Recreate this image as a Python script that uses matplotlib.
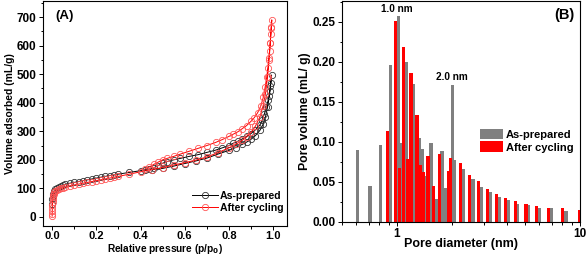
"""Isotermas de adsorción y distribución de tamaño de poro."""

import matplotlib.pyplot as plt
import numpy as np
from matplotlib.ticker import LogLocator, MultipleLocator, NullFormatter

plt.rcParams["font.family"] = ["Liberation Sans", "DejaVu Sans"]
plt.rcParams["font.weight"] = "bold"
plt.rcParams["axes.labelweight"] = "bold"

# (A) isotermas: rama de adsorción y de desorción
prep_ads_p = [
    0.0005, 0.001, 0.002, 0.004, 0.007, 0.01, 0.015, 0.02, 0.03, 0.04,
    0.05, 0.06, 0.08, 0.1, 0.12, 0.14, 0.16, 0.18, 0.2, 0.22, 0.24,
    0.26, 0.28, 0.3, 0.35, 0.4, 0.45, 0.5, 0.55, 0.6, 0.65, 0.7, 0.75,
    0.8, 0.83, 0.86, 0.88, 0.9, 0.92, 0.94, 0.955, 0.965, 0.975, 0.983,
    0.988, 0.993,
]
prep_ads_v = [
    45, 62, 72, 80, 87, 92, 97, 100, 104, 108,
    111, 114, 118, 121, 124, 127, 130, 133, 136, 139, 142,
    145, 147, 150, 156, 162, 166, 170, 178, 187, 196, 206, 220,
    233, 243, 254, 262, 272, 285, 303, 325, 349, 385, 425,
    460, 497,
]
prep_des_p = [
    0.99, 0.985, 0.978, 0.97, 0.96, 0.95, 0.94, 0.92, 0.9, 0.88, 0.86,
    0.84, 0.82, 0.8, 0.77, 0.74, 0.7, 0.66, 0.62, 0.58, 0.55, 0.52,
    0.5, 0.48, 0.46, 0.44, 0.42,
]
prep_des_v = [
    470, 440, 410, 385, 360, 338, 322, 305, 292, 282, 273,
    265, 258, 250, 242, 234, 226, 218, 212, 205, 200, 194,
    188, 180, 172, 167, 164,
]

cyc_ads_p = [
    0.0003, 0.0005, 0.0007, 0.001, 0.0015, 0.002, 0.003, 0.004, 0.006,
    0.008, 0.01, 0.015, 0.02, 0.03, 0.04, 0.05, 0.06, 0.08, 0.1, 0.12,
    0.14, 0.16, 0.18, 0.2, 0.22, 0.24, 0.26, 0.28, 0.3, 0.35, 0.4, 0.45,
    0.5, 0.55, 0.6, 0.65, 0.7, 0.75, 0.8, 0.83, 0.86, 0.88, 0.9, 0.92,
    0.94, 0.955, 0.965, 0.975, 0.982, 0.987, 0.991, 0.994,
]
cyc_ads_v = [
    3, 10, 20, 30, 42, 52, 62, 70, 77,
    82, 86, 90, 93, 97, 100, 102, 105, 109, 112, 115,
    118, 121, 124, 127, 130, 133, 136, 139, 142, 150, 158, 166,
    173, 182, 190, 199, 210, 225, 242, 254, 268, 280, 296, 318,
    350, 390, 430, 490, 550, 610, 660, 690,
]
cyc_des_p = [
    0.992, 0.99, 0.987, 0.984, 0.98, 0.976, 0.971, 0.964, 0.956, 0.945,
    0.93, 0.915, 0.9, 0.88, 0.86, 0.84, 0.82, 0.8, 0.77, 0.74, 0.7,
    0.66, 0.62, 0.58, 0.55, 0.52, 0.5, 0.48, 0.46, 0.44, 0.42,
]
cyc_des_v = [
    665, 640, 610, 582, 555, 520, 489, 455, 420, 390,
    365, 348, 335, 320, 309, 298, 290, 282, 271, 261, 250,
    240, 230, 220, 212, 205, 200, 192, 184, 175, 168,
]

# (B) distribución de tamaño de poro
prep_diam = [
    0.608, 0.713, 0.812, 0.921, 1.017, 1.052, 1.121, 1.229, 1.326,
    1.367, 1.413, 1.531, 1.632, 1.761, 1.84, 2.013, 2.056, 2.313,
    2.606, 2.894, 3.215, 3.60, 4.04, 4.56, 5.22, 5.98, 7.01, 8.37,
]
prep_vol = [
    0.090, 0.045, 0.096, 0.196, 0.257, 0.099, 0.200, 0.172, 0.105,
    0.091, 0.057, 0.099, 0.029, 0.089, 0.042, 0.171, 0.077, 0.066,
    0.054, 0.044, 0.037, 0.031, 0.027, 0.023, 0.021, 0.018, 0.017, 0.014,
]
cyc_diam = [
    0.884, 0.979, 1.029, 1.083, 1.145, 1.189, 1.283, 1.338, 1.384,
    1.475, 1.583, 1.708, 1.914, 1.963, 2.218, 2.496, 2.797, 3.12,
    3.50, 3.92, 4.43, 5.07, 5.78, 6.73, 8.03, 9.91,
]
cyc_vol = [
    0.114, 0.251, 0.068, 0.219, 0.079, 0.186, 0.134, 0.071, 0.062,
    0.082, 0.045, 0.085, 0.064, 0.080, 0.074, 0.059, 0.051, 0.041,
    0.035, 0.030, 0.026, 0.023, 0.020, 0.018, 0.017, 0.015,
]

GRAY = "#808080"
RED = "#ff0000"
TICK_SIZE = 8.5


def style_axis(axis):
    """Marcas hacia fuera y marco fino."""
    axis.tick_params(
        which="both",
        direction="out",
        labelsize=TICK_SIZE,
        width=0.7,
        pad=1.5,
    )
    axis.tick_params(which="major", length=3.2)
    axis.tick_params(which="minor", length=1.8)
    for spine in axis.spines.values():
        spine.set_linewidth(0.8)


def plot_isotherm(axis, p_values, v_values, color, edge, label):
    axis.plot(
        p_values,
        v_values,
        color=color,
        linewidth=0.7,
        marker="o",
        markersize=4.5,
        markerfacecolor="none",
        markeredgecolor=edge,
        markeredgewidth=0.6,
        label=label,
    )


def log_bars(axis, diameters, values, color, label, log_width=0.019):
    diameters = np.asarray(diameters)
    left = diameters * 10 ** (-log_width / 2)
    width = diameters * (10 ** (log_width / 2) - 10 ** (-log_width / 2))
    axis.bar(
        left,
        values,
        width=width,
        align="edge",
        color=color,
        edgecolor="none",
        label=label,
    )


figure = plt.figure(figsize=(5.87, 2.56), dpi=100)
axis_a = figure.add_axes([0.0733, 0.119, 0.4157, 0.877])
axis_b = figure.add_axes([0.5826, 0.133, 0.4054, 0.863])

# Panel A
plot_isotherm(
    axis_a,
    prep_ads_p + prep_des_p,
    prep_ads_v + prep_des_v,
    "black",
    "#333333",
    "As-prepared",
)
plot_isotherm(
    axis_a,
    cyc_ads_p + cyc_des_p,
    cyc_ads_v + cyc_des_v,
    RED,
    "#ff5555",
    "After cycling",
)
axis_a.set_xlim(-0.041, 1.063)
axis_a.set_ylim(-30, 756)
axis_a.xaxis.set_major_locator(MultipleLocator(0.2))
axis_a.xaxis.set_minor_locator(MultipleLocator(0.1))
axis_a.yaxis.set_major_locator(MultipleLocator(100))
axis_a.yaxis.set_minor_locator(MultipleLocator(50))
x_label = axis_a.set_xlabel(
    "Relative pressure (p/p$_\\mathbf{0}$)",
    fontsize=7.3,
)
x_label.set_verticalalignment("bottom")
axis_a.xaxis.set_label_coords(0.5, -0.134)
axis_a.set_ylabel("Volume adsorbed (mL/g)", fontsize=7.5, labelpad=1)
axis_a.text(
    0.05, 0.92, "(A)",
    transform=axis_a.transAxes,
    fontsize=9.5,
    fontweight="bold",
)
axis_a.legend(
    loc="upper left",
    bbox_to_anchor=(0.612, 0.155),
    frameon=False,
    fontsize=7.6,
    handlelength=2.4,
    handletextpad=0.2,
    labelspacing=0.2,
    borderpad=0,
    borderaxespad=0,
    numpoints=1,
)
style_axis(axis_a)
axis_a.tick_params(axis="x", pad=0.8, labelsize=8)

# Panel B
log_bars(axis_b, prep_diam, prep_vol, GRAY, "As-prepared")
log_bars(axis_b, cyc_diam, cyc_vol, RED, "After cycling")
axis_b.set_xscale("log")
axis_b.set_xlim(0.5, 10)
axis_b.set_ylim(0, 0.276)
axis_b.xaxis.set_minor_locator(LogLocator(base=10, subs=np.arange(2, 10)))
axis_b.xaxis.set_minor_formatter(NullFormatter())
axis_b.set_xticks([1, 10], labels=["1", "10"])
axis_b.yaxis.set_major_locator(MultipleLocator(0.05))
axis_b.yaxis.set_minor_locator(MultipleLocator(0.025))
axis_b.yaxis.set_major_formatter(lambda value, pos: f"{value:.2f}")
axis_b.set_xlabel("Pore diameter (nm)", fontsize=9, labelpad=-2)
axis_b.set_ylabel("Pore volume (mL/ g)", fontsize=8.8, labelpad=1)
axis_b.text(
    0.975, 0.92, "(B)",
    transform=axis_b.transAxes,
    ha="right",
    fontsize=10.5,
    fontweight="bold",
)
axis_b.text(1.0, 0.262, "1.0 nm", ha="center", fontsize=7.2, fontweight="bold")
axis_b.text(2.0, 0.177, "2.0 nm", ha="center", fontsize=7.2, fontweight="bold")
axis_b.legend(
    loc="upper left",
    bbox_to_anchor=(0.58, 0.422),
    frameon=False,
    fontsize=8,
    handlelength=2.05,
    handleheight=1.1,
    handletextpad=0.3,
    labelspacing=0.15,
    borderpad=0,
    borderaxespad=0,
)
style_axis(axis_b)

figure.savefig("out.png", dpi=100)
plt.close(figure)
